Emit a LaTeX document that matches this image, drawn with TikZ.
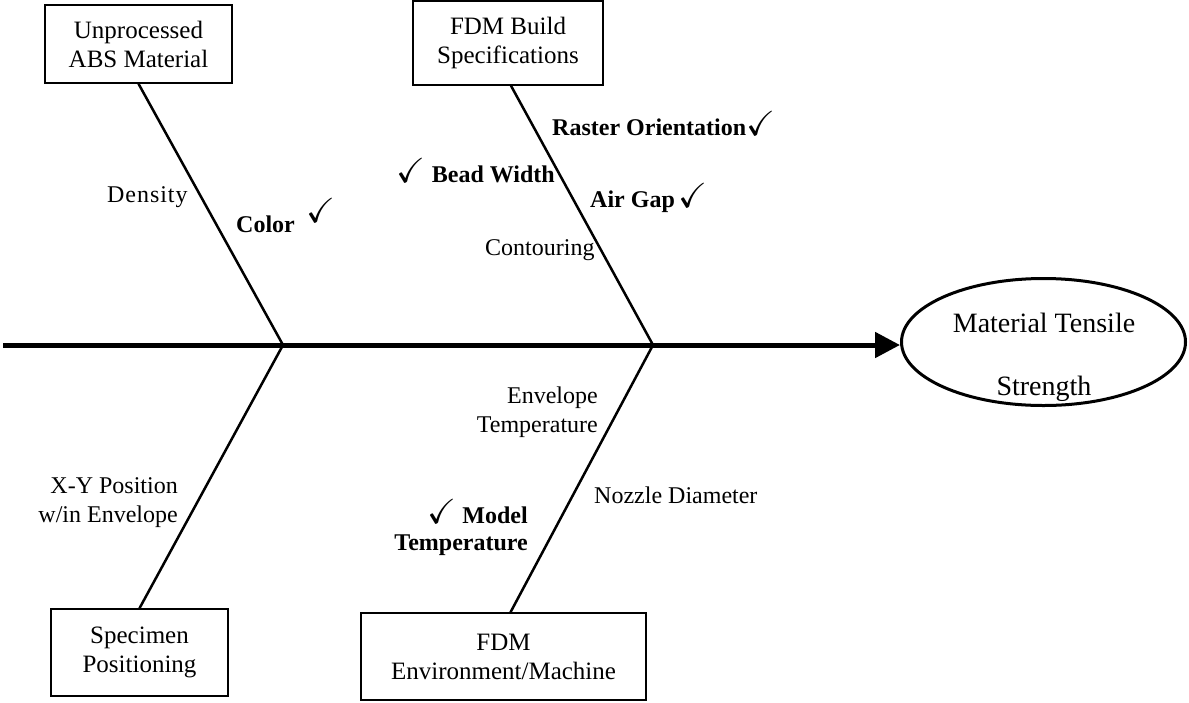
\documentclass[tikz,border=0pt]{standalone}
\usepackage{fontspec}
\setmainfont{Liberation Serif}
\usepackage{amssymb}
\usetikzlibrary{arrows.meta,shapes.geometric}
\newcommand{\chk}{\scalebox{1.45}{\checkmark}}
\begin{document}
\begin{tikzpicture}[x=1pt,y=-1pt,
  box/.style={draw,line width=1.5pt,inner sep=0pt,align=center,font=\fontsize{25}{29}\selectfont},
  bone/.style={line width=2.5pt},
  lab/.style={inner sep=0pt,font=\fontsize{24}{29}\selectfont},
  blab/.style={inner sep=0pt,font=\fontsize{24}{27}\selectfont\bfseries}]
\useasboundingbox (0,0) rectangle (1189,702);
% category boxes
\node[box,minimum width=187pt,minimum height=78pt] (b1) at (138.5,44) {Unprocessed\\ABS Material};
\node[box,minimum width=190pt,minimum height=84pt] (b2) at (508,43) {FDM Build\\Specifications};
\node[box,minimum width=177pt,minimum height=87pt] (b3) at (139.5,652.5) {Specimen\\Positioning};
\node[box,minimum width=285pt,minimum height=87pt] (b4) at (503.5,656.5) {FDM\\Environment/Machine};
% effect
\node[draw,ellipse,line width=3pt,minimum width=284pt,minimum height=127pt,inner sep=0pt] (out) at (1043.5,342) {};
\node[anchor=base,align=center,inner sep=0pt,font=\fontsize{28}{63}\selectfont] (outlab) at (1044,395) {Material Tensile\\Strength};
% spine
\coordinate (start) at (3,345);
\coordinate (j1) at (283,345);
\coordinate (j2) at (653,345);
\draw[line width=5pt,-{Triangle[length=25pt,width=25pt]}] (start) -- (start -| out.west);
% bones
\draw[bone] (b1.south) -- (j1);
\draw[bone] ([xshift=3pt]b2.south) -- (j2);
\draw[bone] (b3.north) -- (j1);
\draw[bone] ([xshift=7pt]b4.north) -- (j2);
% causes
\node[lab,anchor=base west] (density) at (107,202) {\addfontfeature{LetterSpace=4}Density};
\node[blab,anchor=base west] (color) at (236,232) {Color\hspace{12pt}\raisebox{10pt}{\chk}};
\node[blab,anchor=base west] (raster) at (552,135) {Raster Orientation\chk};
\node[blab,anchor=base east] (bead) at (555,182) {\chk\ Bead Width};
\node[blab,anchor=base west] (airgap) at (590,207) {Air Gap\hspace{4pt}\chk};
\node[lab,anchor=base west] (contour) at (485,255) {Contouring};
\node[lab,anchor=base east,align=right] (xy) at (178,522) {X-Y Position\\w/in Envelope};
\node[lab,anchor=base east,align=right] (envt) at (598,432) {Envelope\\Temperature};
\node[lab,anchor=base west] (nozzle) at (594,503) {Nozzle Diameter};
\node[blab,anchor=base east,align=right] (model) at (528,550) {\chk\ Model\\Temperature};
\end{tikzpicture}
\end{document}
